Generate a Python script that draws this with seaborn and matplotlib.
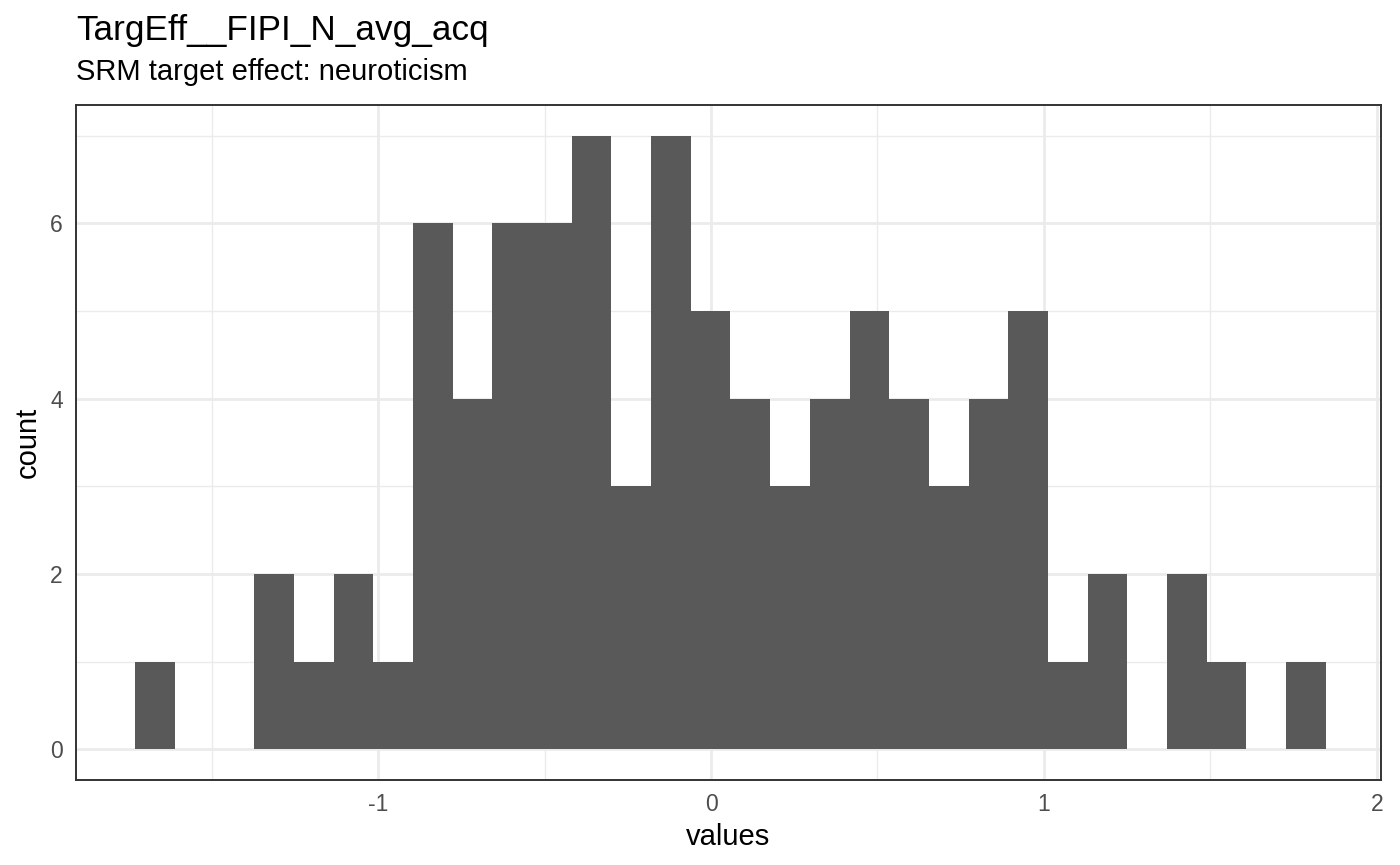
import numpy as np
import pandas as pd
import matplotlib
matplotlib.use('Agg')
import matplotlib.pyplot as plt
import seaborn as sns

# histogram: 30 bins
bin_lo = -1.729
bin_hi = 1.846
counts = [1, 0, 0, 2, 1, 2, 1, 6, 4, 6, 6, 7, 3, 7, 5,
          4, 3, 4, 5, 4, 3, 4, 5, 1, 2, 0, 2, 1, 0, 1]
x_ticks = [-1, 0, 1, 2]
y_ticks = [0, 2, 4, 6]
title = 'TargEff__FIPI_N_avg_acq'
subtitle = 'SRM target effect: neuroticism'

edges = np.linspace(bin_lo, bin_hi, len(counts) + 1)
centers = (edges[:-1] + edges[1:]) / 2
df = pd.DataFrame({'values': centers, 'count': counts})

sns.set_theme(style='white')
plt.rcParams['font.family'] = ['Liberation Sans', 'DejaVu Sans']
plt.rcParams['axes.unicode_minus'] = False

fig = plt.figure(figsize=(14, 8.65), dpi=100)
ax = fig.add_axes([0.0543, 0.0983, 0.9321, 0.7803])

sns.histplot(data=df, x='values', weights='count', bins=list(edges), ax=ax,
             color='#595959', alpha=1, linewidth=0, zorder=3)

ax.set_xlim(-1.907, 2.012)
ax.set_ylim(-0.05 * max(counts), max(counts) * 1.05)

ax.set_xticks(x_ticks)
ax.set_yticks(y_ticks)
ax.set_xticks([-1.5, -0.5, 0.5, 1.5], minor=True)
ax.set_yticks([1, 3, 5, 7], minor=True)
ax.grid(which='major', color='#EBEBEB', linewidth=2.0, zorder=0)
ax.grid(which='minor', color='#EBEBEB', linewidth=1.0, zorder=0)
ax.set_axisbelow(True)

ax.tick_params(axis='both', which='major', length=5.5, width=1.5, color='#333333',
               labelsize=16.5, labelcolor='#4D4D4D', pad=4)
ax.tick_params(axis='both', which='minor', length=0)
for s in ax.spines.values():
    s.set_color('#333333')
    s.set_linewidth(1.4)

ax.set_xlabel('values', fontsize=21, color='black', labelpad=5)
ax.set_ylabel('count', fontsize=21, color='black', labelpad=6)

fig.text(0.0543, 0.954, title, fontsize=25.3, color='black', ha='left', va='baseline')
fig.text(0.0543, 0.9075, subtitle, fontsize=21, color='black', ha='left', va='baseline')

fig.savefig('out.png', dpi=100)
